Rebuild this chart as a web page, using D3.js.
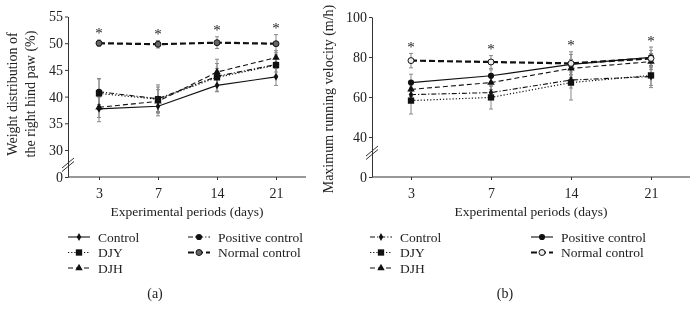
<!DOCTYPE html>
<html>
<head>
<meta charset="utf-8">
<script src="https://cdn.jsdelivr.net/npm/d3@7"></script>
<style>
  body { margin: 0; background: #fff; }
  #chart { will-change: transform; }
  svg text { fill: #222; }
</style>
</head>
<body>
<svg id="chart" width="700" height="320" font-family="'Liberation Serif', 'Times New Roman', 'DejaVu Serif', serif"></svg>
<script>
// x categories (days)
const days = ["3", "7", "14", "21"];
const groups = ["Control", "DJY", "DJH", "Positive control", "Normal control"];

// (a) weight distribution of the right hind paw (%)
const weightControl = [37.7, 38.2, 42.1, 43.7];
const weightControlErr = [2.4, 1.8, 1.2, 1.6];
const weightDJY = [40.6, 39.5, 43.6, 45.9];
const weightDJYErr = [2.8, 2.3, 2.6, 1.9];
const weightDJH = [38.0, 39.1, 44.6, 47.3];
const weightDJHErr = [1.9, 2.2, 2.4, 1.3];
const weightPositive = [40.9, 39.6, 43.8, 46.0];
const weightPositiveErr = [2.4, 2.6, 1.5, 1.4];
const weightNormal = [50.0, 49.8, 50.1, 49.9];
const weightNormalErr = [0.6, 0.7, 1.1, 1.7];
const weightTicks = [0, 30, 35, 40, 45, 50, 55];

// (b) maximum running velocity (m/h)
const speedControl = [61.2, 62.2, 68.5, 70.2];
const speedControlErr = [3.0, 3.2, 4.0, 5.5];
const speedDJY = [58.2, 59.8, 67.2, 70.8];
const speedDJYErr = [6.7, 5.8, 8.7, 5.0];
const speedDJH = [63.8, 67.2, 74.3, 77.7];
const speedDJHErr = [3.5, 3.5, 4.5, 4.0];
const speedPositive = [67.2, 70.6, 76.3, 79.8];
const speedPositiveErr = [4.2, 3.0, 5.0, 5.2];
const speedNormal = [78.2, 77.5, 76.8, 79.3];
const speedNormalErr = [3.6, 3.2, 5.8, 4.0];
const speedTicks = [0, 40, 60, 80, 100];

const svg = d3.select("#chart");

// line styles
const SOLID = {dash: null, width: 1.1};
const DOTTED = {dash: "1.2,2", width: 1.2};
const DASHED = {dash: "5,3", width: 1.1};
const DASHDOT = {dash: "5,2,1.2,2", width: 1.1};
const THICK = {dash: "6,3", width: 2.2};

function drawPanel(cfg) {
    const g = svg.append("g");

    const x = d3.scalePoint()
        .domain(days)
        .range(cfg.xRange)
        .padding(cfg.xPad)
        .round(true);

    const y = d3.scaleLinear()
        .domain(cfg.yDomain)
        .range(cfg.yRange);

    // axes
    g.append("g")
        .attr("transform", `translate(0,${y(0)})`)
        .call(d3.axisBottom(x).tickSize(3).tickSizeOuter(0))
        .call(a => a.select(".domain").attr("d", `M${cfg.xRange[0]},0H${cfg.xRange[1]}`))
        .call(a => a.selectAll("text").attr("font-size", 14).attr("dy", "1.05em"));

    g.append("g")
        .attr("transform", `translate(${cfg.xRange[0]},0)`)
        .call(d3.axisLeft(y).tickValues(cfg.ticks).tickSize(3).tickSizeOuter(0))
        .call(a => a.selectAll("text").attr("font-size", 14).attr("x", -5));
    g.selectAll(".domain, .tick line").attr("stroke", "#333");
    // d3 axis sets its own font family; use the page serif instead
    g.selectAll("g").attr("font-family", null);

    // axis break marks
    [0, 3.5].forEach(off => {
        g.append("line")
            .attr("x1", cfg.xRange[0] - 6).attr("y1", cfg.breakY + 5 + off)
            .attr("x2", cfg.xRange[0] + 6).attr("y2", cfg.breakY - 5 + off)
            .attr("stroke", "#333").attr("stroke-width", 1);
    });

    // axis titles
    cfg.yTitle.forEach((t, i) => {
        g.append("text")
            .attr("transform", `translate(${cfg.yTitleX + i * 18},${cfg.yTitleY}) rotate(-90)`)
            .attr("text-anchor", "middle")
            .attr("font-size", 14)
            .text(t);
    });
    const midX = (cfg.xRange[0] + cfg.xRange[1]) / 2;
    g.append("text")
        .attr("x", midX).attr("y", 216)
        .attr("text-anchor", "middle")
        .attr("font-size", 13.5)
        .text("Experimental periods (days)");

    // error bars
    cfg.series.forEach(s => {
        s.values.forEach((v, i) => {
            const cx = x(days[i]);
            const e = s.errors[i];
            g.append("path")
                .attr("d", `M${cx},${y(v - e)}V${y(v + e)}M${cx - 2},${y(v - e)}h4M${cx - 2},${y(v + e)}h4`)
                .attr("stroke", "#888").attr("stroke-width", 1).attr("fill", "none");
        });
    });

    const line = d3.line()
        .x((d, i) => x(days[i]))
        .y(d => y(d));

    cfg.series.forEach(s => {
        g.append("path")
            .datum(s.values)
            .attr("d", line)
            .attr("fill", "none")
            .attr("stroke", "#111")
            .attr("stroke-width", s.style.width)
            .attr("stroke-dasharray", s.style.dash);
    });

    cfg.series.forEach(s => {
        g.selectAll(null)
            .data(s.values)
            .enter()
            .append("path")
                .attr("transform", (d, i) => `translate(${x(days[i])},${y(d)})`)
                .attr("d", d3.symbol().type(s.marker.type).size(s.marker.size))
                .attr("fill", s.marker.fill)
                .attr("stroke", "#111")
                .attr("stroke-width", s.marker.stroke || 0);
    });

    // significance asterisks
    days.forEach((d, i) => {
        const top = d3.max(cfg.series, s => s.values[i] + s.errors[i]);
        g.append("text")
            .attr("x", x(d)).attr("y", Math.round(y(top) - 1.5))
            .attr("text-anchor", "middle")
            .attr("font-size", 15)
            .attr("fill", "#333")
            .text("*");
    });

    // legend
    cfg.series.forEach((s, k) => {
        const col = k < 3 ? 0 : 1;
        const row = k < 3 ? k : k - 3;
        const lx = cfg.legendX[col];
        const ly = 237 + row * 15.5;
        g.append("line")
            .attr("x1", lx).attr("x2", lx + 22)
            .attr("y1", ly).attr("y2", ly)
            .attr("stroke", "#111")
            .attr("stroke-width", s.style.width)
            .attr("stroke-dasharray", s.style.dash);
        g.append("path")
            .attr("transform", `translate(${lx + 11},${ly})`)
            .attr("d", d3.symbol().type(s.marker.type).size(s.marker.size))
            .attr("fill", s.marker.fill)
            .attr("stroke", "#111")
            .attr("stroke-width", s.marker.stroke || 0);
        g.append("text")
            .attr("x", lx + 30).attr("y", ly)
            .attr("dy", "0.35em")
            .attr("font-size", 13.5)
            .text(s.name);
    });

    g.append("text")
        .attr("x", cfg.tagX).attr("y", 298)
        .attr("text-anchor", "middle")
        .attr("font-size", 14)
        .text(cfg.tag);
}

const diamond = {type: d3.symbolDiamond, size: 18, fill: "#111"};
const square = {type: d3.symbolSquare, size: 40, fill: "#111"};
const triangle = {type: d3.symbolTriangle, size: 24, fill: "#111"};
const dot = {type: d3.symbolCircle, size: 30, fill: "#111"};

drawPanel({
    xRange: [68, 306], xPad: 0.5,
    yDomain: [0, 30, 55], yRange: [177, 150, 16.5],
    ticks: weightTicks, breakY: 163,
    yTitle: ["Weight distribution of", "the right hind paw (%)"],
    yTitleX: 17, yTitleY: 94,
    legendX: [68, 188], tag: "(a)", tagX: 155,
    series: [
        {name: groups[0], values: weightControl, errors: weightControlErr, style: SOLID, marker: diamond},
        {name: groups[1], values: weightDJY, errors: weightDJYErr, style: DOTTED, marker: square},
        {name: groups[2], values: weightDJH, errors: weightDJHErr, style: DASHED, marker: triangle},
        {name: groups[3], values: weightPositive, errors: weightPositiveErr, style: DASHDOT, marker: dot},
        {name: groups[4], values: weightNormal, errors: weightNormalErr, style: THICK,
            marker: {type: d3.symbolCircle, size: 28, fill: "#666", stroke: 1}}
    ]
});

drawPanel({
    xRange: [372, 690], xPad: 0.48,
    yDomain: [0, 40, 100], yRange: [177, 137, 17],
    ticks: speedTicks, breakY: 151,
    yTitle: ["Maximum running velocity (m/h)"],
    yTitleX: 333, yTitleY: 99,
    legendX: [370, 531], tag: "(b)", tagX: 505,
    series: [
        {name: groups[0], values: speedControl, errors: speedControlErr, style: DASHDOT, marker: diamond},
        {name: groups[1], values: speedDJY, errors: speedDJYErr, style: DOTTED, marker: square},
        {name: groups[2], values: speedDJH, errors: speedDJHErr, style: DASHED, marker: triangle},
        {name: groups[3], values: speedPositive, errors: speedPositiveErr, style: SOLID, marker: dot},
        {name: groups[4], values: speedNormal, errors: speedNormalErr, style: THICK,
            marker: {type: d3.symbolCircle, size: 28, fill: "#eee", stroke: 1}}
    ]
});
</script>
</body>
</html>
